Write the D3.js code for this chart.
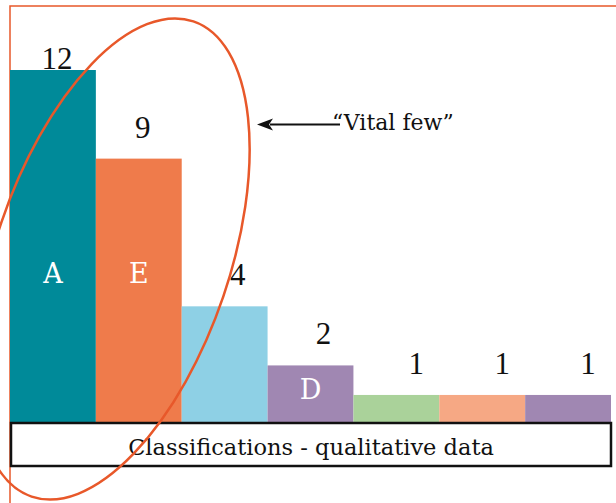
<!DOCTYPE html>
<meta charset="utf-8">
<script src="https://d3js.org/d3.v7.min.js"></script>
<style>
body { margin: 0; background: #fff; }
</style>
<body>
<div id="canvas"></div>
<script>

    // dados - frequencia por classificacao (ordenado, pareto)
    var categories = ["A", "E", "C", "D", "B", "F", "G"];
    var counts = [12, 9, 4, 2, 1, 1, 1];
    var shownLetters = ["A", "E", "D"];
    var barColors = ["#008a99", "#ef7b4b", "#8ed0e5", "#a087b2", "#aad29a", "#f6a884", "#a087b2"];
    var caption = "Classifications - qualitative data";
    var note = "\u201cVital few\u201d";

    var data = categories.map(function(c, i) { return {cat: c, value: counts[i], color: barColors[i]}; });

    var width = 616;
    var height = 503;
    var accent = "#e8582a";

    var svg = d3.select("#canvas")
        .append("svg")
        .attr("width", width)
        .attr("height", height);

    // moldura laranja
    svg.append("rect")
        .attr("x", 10)
        .attr("y", 6)
        .attr("width", 700)
        .attr("height", 600)
        .attr("fill", "none")
        .attr("stroke", accent)
        .attr("stroke-width", 1.5);

    var x = d3.scaleBand()
        .domain(categories)
        .range([10, 611])
        .padding(0);

    var y = d3.scaleLinear()
        .domain([0, d3.max(counts)])
        .range([424.5, 70]);

    // barras
    svg.selectAll(".bar")
        .data(data)
        .enter()
        .append("rect")
        .attr("class", "bar")
        .attr("x", function(d) { return x(d.cat); })
        .attr("y", function(d) { return y(d.value); })
        .attr("width", x.bandwidth())
        .attr("height", function(d) { return y(0) - y(d.value); })
        .attr("fill", function(d) { return d.color; });

    // valores acima das barras
    svg.selectAll(".val")
        .data(data)
        .enter()
        .append("text")
        .attr("class", "val")
        .attr("x", function(d) {
            var shift = d.value >= 9 ? 4 : (d.value >= 2 ? 13 : 20);
            return x(d.cat) + x.bandwidth() / 2 + shift;
        })
        .attr("y", function(d) { return Math.max(y(d.value) - 21, 69); })
        .attr("text-anchor", "middle")
        .style("font-family", "'Liberation Serif', serif")
        .style("font-size", "31px")
        .attr("fill", "#111")
        .text(function(d) { return d.value; });

    // letras dentro das barras
    svg.selectAll(".letter")
        .data(data.filter(function(d) { return shownLetters.indexOf(d.cat) >= 0; }))
        .enter()
        .append("text")
        .attr("class", "letter")
        .attr("x", function(d) { return x(d.cat) + x.bandwidth() / 2; })
        .attr("y", function(d) { return Math.max(y(4.8), y(d.value) + 34); })
        .attr("text-anchor", "middle")
        .style("font-family", "'DejaVu Serif', serif")
        .style("font-size", "27px")
        .attr("fill", "#fff")
        .text(function(d) { return d.cat; });

    // caixa do eixo x
    svg.append("rect")
        .attr("x", 11)
        .attr("y", 423)
        .attr("width", 600)
        .attr("height", 43)
        .attr("fill", "#fff")
        .attr("stroke", "#111")
        .attr("stroke-width", 2.5);

    svg.append("text")
        .attr("x", 311)
        .attr("y", 455)
        .attr("text-anchor", "middle")
        .style("font-family", "'DejaVu Serif', serif")
        .style("font-size", "22.5px")
        .attr("fill", "#111")
        .text(caption);

    // elipse dos "vital few"
    svg.append("ellipse")
        .attr("transform", "translate(112.5,259) rotate(-71.2)")
        .attr("rx", 251)
        .attr("ry", 117)
        .attr("fill", "none")
        .attr("stroke", accent)
        .attr("stroke-width", 2.5);

    // seta + texto
    svg.append("line")
        .attr("x1", 340)
        .attr("x2", 270)
        .attr("y1", 124.5)
        .attr("y2", 124.5)
        .attr("stroke", "#111")
        .attr("stroke-width", 2);
    svg.append("path")
        .attr("d", "M257,124.5 L273,118.5 L269,124.5 L273,130.5 Z")
        .attr("fill", "#111");

    svg.append("text")
        .attr("x", 332)
        .attr("y", 130)
        .style("font-family", "'DejaVu Serif', serif")
        .style("font-size", "22px")
        .attr("fill", "#111")
        .text(note);

</script>
</body>
